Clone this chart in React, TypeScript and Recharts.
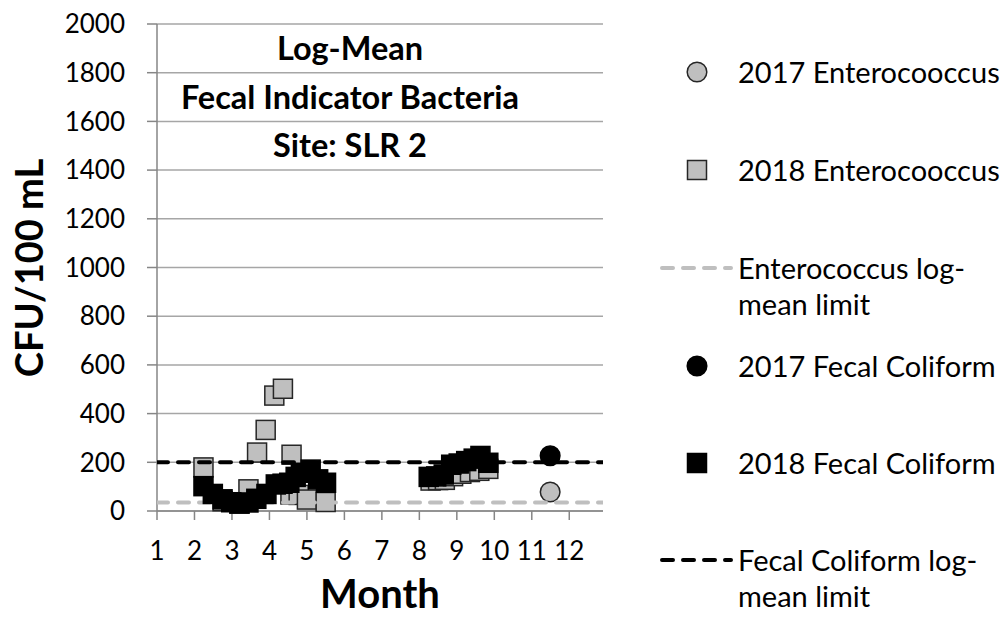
import type { FC, ReactNode } from 'react'
import { ScatterChart, Scatter, XAxis, YAxis, CartesianGrid } from 'recharts'

const MONTH_TICKS = [1, 2, 3, 4, 5, 6, 7, 8, 9, 10, 11, 12]
const CFU_TICKS = [0, 200, 400, 600, 800, 1000, 1200, 1400, 1600, 1800, 2000]
const MONTH_DOMAIN = [1, 12.9]

const ENTERO_2017_MONTH = [11.49]
const ENTERO_2017_CFU = [78]

const ENTERO_2018_MONTH = [
    2.24, 2.75, 3.2, 3.44, 3.67, 3.9, 4.13, 4.36, 4.59, 4.56, 4.78, 5.0, 5.5,
    8.3, 8.5, 8.68, 8.9, 9.12, 9.35, 9.6, 9.84
]
const ENTERO_2018_CFU = [
    179, 40, 30, 89, 240, 333, 474, 502, 231, 68, 66, 47, 37,
    125, 127, 128, 143, 153, 160, 165, 173
]

const FECAL_2017_MONTH = [11.49]
const FECAL_2017_CFU = [227]

const FECAL_2018_MONTH = [
    2.24, 2.49, 2.75, 2.98, 3.2, 3.44, 3.65, 3.92, 4.17, 4.35, 4.53, 4.7, 4.84,
    5.1, 5.3, 5.51,
    8.25, 8.45, 8.65, 8.85, 9.05, 9.25, 9.45, 9.63, 9.84
]
const FECAL_2018_CFU = [
    102, 70, 48, 36, 31, 35, 50, 70, 109, 112, 116, 140, 157,
    170, 130, 116,
    140, 142, 150, 190, 195, 205, 215, 226, 198
]

const ENTERO_LIMIT = 35
const FECAL_LIMIT = 200

const GREY = '#BFBFBF'
const EDGE = '#262626'
const FONT = 'Lato, Carlito, Calibri, sans-serif'

const zip = (xs: number[], ys: number[]) => xs.map((x, i) => ({ x, y: ys[i] }))
const limitLine = (y: number) => MONTH_DOMAIN.map((x) => ({ x, y }))

const square = (fill: string, stroke: string) => (p: any) => (
    <rect
        x={p.cx - 9.5}
        y={p.cy - 9.5}
        width={19}
        height={19}
        fill={fill}
        stroke={stroke}
        strokeWidth={1.5}
    />
)
const circle = (fill: string, stroke: string) => (p: any) => (
    <circle cx={p.cx} cy={p.cy} r={9.8} fill={fill} stroke={stroke} strokeWidth={1.5} />
)
const noShape = () => <g />

const LEGEND = [
    { kind: 'circle', color: GREY, label: ['2017 Enterocooccus'], y: 72 },
    { kind: 'square', color: GREY, label: ['2018 Enterocooccus'], y: 170 },
    { kind: 'dash', color: GREY, label: ['Enterococcus log-', 'mean limit'], y: 268 },
    { kind: 'circle', color: '#000', label: ['2017 Fecal Coliform'], y: 366 },
    { kind: 'square', color: '#000', label: ['2018 Fecal Coliform'], y: 463 },
    { kind: 'dash', color: '#000', label: ['Fecal Coliform log-', 'mean limit'], y: 560 }
]

const LegendMarker: FC<{ kind: string; color: string }> = ({ kind, color }) => {
    const edge = color === '#000' ? '#000' : EDGE
    return (
        <svg width={76} height={24} style={{ display: 'block' }}>
            {kind === 'circle' && (
                <circle cx={38} cy={12} r={9.8} fill={color} stroke={edge} strokeWidth={1.5} />
            )}
            {kind === 'square' && (
                <rect x={28.5} y={2.5} width={19} height={19} fill={color} stroke={edge} strokeWidth={1.5} />
            )}
            {kind === 'dash' && (
                <line
                    x1={3}
                    x2={72}
                    y1={12}
                    y2={12}
                    stroke={color}
                    strokeWidth={4}
                    strokeDasharray='11 10'
                    strokeLinecap='round'
                />
            )}
        </svg>
    )
}

const App: FC = (): ReactNode => {
    return (
        <div
            style={{
                position: 'absolute',
                left: 0,
                top: 0,
                width: 1005,
                height: 625,
                background: '#fff',
                fontFamily: FONT,
                color: '#000'
            }}
        >
            <ScatterChart
                width={1005}
                height={625}
                margin={{ top: 24, right: 402, bottom: 54, left: 57 }}
            >
                <CartesianGrid vertical={false} stroke='#A6A6A6' strokeWidth={1.5} />
                <XAxis
                    type='number'
                    dataKey='x'
                    domain={MONTH_DOMAIN}
                    ticks={MONTH_TICKS}
                    interval={0}
                    allowDataOverflow
                    height={60}
                    stroke='#868686'
                    strokeWidth={1.5}
                    tickSize={9}
                    tickMargin={22}
                    tick={{ fontSize: 26, fill: '#000', fontFamily: FONT }}
                />
                <YAxis
                    type='number'
                    dataKey='y'
                    domain={[0, 2000]}
                    ticks={CFU_TICKS}
                    interval={0}
                    width={100}
                    stroke='#868686'
                    strokeWidth={1.5}
                    tickSize={10}
                    tickMargin={22}
                    tick={{ fontSize: 26, fill: '#000', fontFamily: FONT }}
                />
                <Scatter
                    name='2017 Enterocooccus'
                    data={zip(ENTERO_2017_MONTH, ENTERO_2017_CFU)}
                    shape={circle(GREY, EDGE)}
                    isAnimationActive={false}
                />
                <Scatter
                    name='2018 Enterocooccus'
                    data={zip(ENTERO_2018_MONTH, ENTERO_2018_CFU)}
                    shape={square(GREY, EDGE)}
                    isAnimationActive={false}
                />
                <Scatter
                    name='Enterococcus log-mean limit'
                    data={limitLine(ENTERO_LIMIT)}
                    fill='none'
                    line={{
                        stroke: GREY,
                        strokeWidth: 4,
                        strokeDasharray: '11 10',
                        strokeLinecap: 'round'
                    }}
                    shape={noShape}
                    isAnimationActive={false}
                />
                <Scatter
                    name='2017 Fecal Coliform'
                    data={zip(FECAL_2017_MONTH, FECAL_2017_CFU)}
                    shape={circle('#000', '#000')}
                    isAnimationActive={false}
                />
                <Scatter
                    name='2018 Fecal Coliform'
                    data={zip(FECAL_2018_MONTH, FECAL_2018_CFU)}
                    shape={square('#000', '#000')}
                    isAnimationActive={false}
                />
                <Scatter
                    name='Fecal Coliform log-mean limit'
                    data={limitLine(FECAL_LIMIT)}
                    fill='none'
                    line={{
                        stroke: '#000',
                        strokeWidth: 4,
                        strokeDasharray: '11 10',
                        strokeLinecap: 'round'
                    }}
                    shape={noShape}
                    isAnimationActive={false}
                />
            </ScatterChart>

            {/* title inside the plot */}
            {['Log-Mean', 'Fecal Indicator Bacteria', 'Site: SLR 2'].map((t, i) => (
                <div
                    key={t}
                    style={{
                        position: 'absolute',
                        left: 150,
                        width: 400,
                        top: 48 + i * 48.5 - 20,
                        height: 40,
                        lineHeight: '40px',
                        textAlign: 'center',
                        fontWeight: 700,
                        fontSize: 32.5
                    }}
                >
                    {t}
                </div>
            ))}

            {/* axis titles */}
            <div
                style={{
                    position: 'absolute',
                    left: 28 - 150,
                    top: 268 - 25,
                    width: 300,
                    height: 50,
                    lineHeight: '50px',
                    textAlign: 'center',
                    fontWeight: 700,
                    fontSize: 38,
                    transform: 'rotate(-90deg)'
                }}
            >
                CFU/100 mL
            </div>
            <div
                style={{
                    position: 'absolute',
                    left: 230,
                    top: 593 - 20,
                    width: 300,
                    height: 40,
                    lineHeight: '40px',
                    textAlign: 'center',
                    fontWeight: 700,
                    fontSize: 40
                }}
            >
                Month
            </div>

            {/* legend */}
            {LEGEND.map((item) => (
                <div
                    key={item.label.join(' ')}
                    style={{
                        position: 'absolute',
                        left: 659,
                        top: item.y - 18,
                        display: 'flex',
                        alignItems: 'flex-start'
                    }}
                >
                    <div style={{ paddingTop: 6 }}>
                        <LegendMarker kind={item.kind} color={item.color} />
                    </div>
                    <div style={{ fontSize: 29, lineHeight: '36px', marginLeft: 3 }}>
                        {item.label.map((l) => (
                            <div key={l}>{l}</div>
                        ))}
                    </div>
                </div>
            ))}
        </div>
    )
}

export default App
